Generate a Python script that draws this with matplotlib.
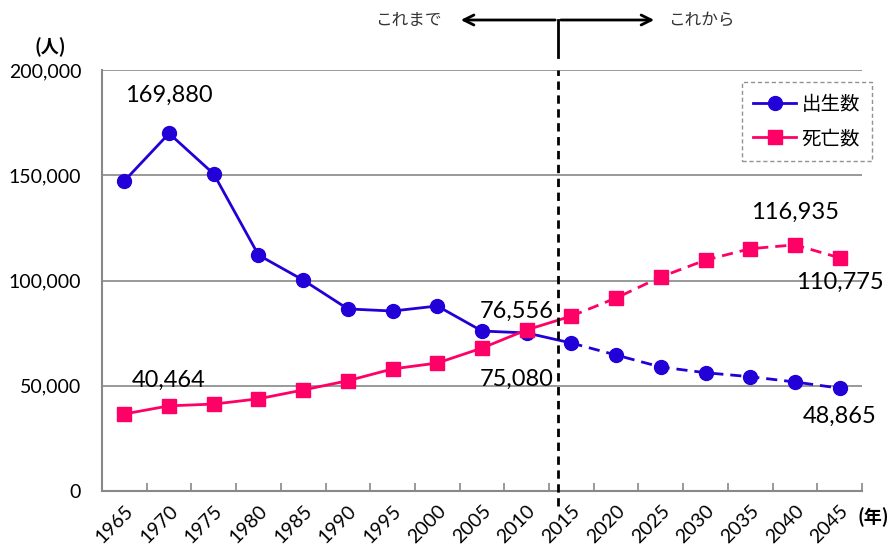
import numpy as np
import matplotlib.pyplot as plt
from matplotlib.lines import Line2D

plt.rcParams['font.family'] = ['Lato', 'Noto Sans CJK JP', 'DejaVu Sans']
jp = ['Noto Sans CJK JP', 'DejaVu Sans']

# data
years = ['1965', '1970', '1975', '1980', '1985', '1990', '1995', '2000', '2005',
         '2010', '2015', '2020', '2025', '2030', '2035', '2040', '2045']
births = [147300, 169880, 150600, 112100, 100200, 86500, 85500, 87900, 76000,
          75080, 70300, 64600, 58900, 56200, 54300, 51800, 48865]
deaths = [36600, 40464, 41300, 43800, 48000, 52400, 58000, 60800, 67900,
          76556, 83100, 91700, 101700, 109700, 115100, 116935, 110775]
split = 10  # first projected year (2015)

blue = '#2200D8'
pink = '#FF0066'

fig = plt.figure(figsize=(8.94, 5.46), dpi=100)
ax = fig.add_axes([0.1141, 0.1007, 0.8501, 0.7711])

x = np.arange(len(years))
ax.plot(x[:split + 1], births[:split + 1], color=blue, lw=2, zorder=3)
ax.plot(x[split:], births[split:], color=blue, lw=2, ls=(0, (4, 2.5)), zorder=3)
ax.plot(x, births, ls='none', marker='o', ms=10, color=blue, zorder=4)
ax.plot(x[:split + 1], deaths[:split + 1], color=pink, lw=2, zorder=3)
ax.plot(x[split:], deaths[split:], color=pink, lw=2, ls=(0, (4, 2.5)), zorder=3)
ax.plot(x, deaths, ls='none', marker='s', ms=10, color=pink, zorder=4)

ax.set_xlim(-0.5, len(years) - 0.5)
ax.set_ylim(0, 200000)
ax.set_yticks(np.arange(0, 200001, 50000))
ax.set_yticklabels([f'{v:,}' for v in range(0, 200001, 50000)], fontsize=14)
ax.yaxis.grid(True, color='#888888', lw=1.2)
ax.set_axisbelow(True)
ax.tick_params(axis='y', length=0, pad=15)

ax.set_xticks(x)
ax.set_xticklabels(years, rotation=45, ha='right', rotation_mode='anchor', fontsize=14)
ax.set_xticks(np.arange(-0.5, len(years)), minor=True)
ax.tick_params(axis='x', which='major', length=0, pad=8)
ax.tick_params(axis='x', which='minor', length=6, direction='in', color='#888888', width=1.2)

for s in ['top', 'right']:
    ax.spines[s].set_visible(False)
for s in ['left', 'bottom']:
    ax.spines[s].set_color('#888888')
    ax.spines[s].set_linewidth(1.5)

# value labels
lab = dict(fontsize=17, color='black', zorder=5)
ax.text(1, 183000, '169,880', ha='center', va='bottom', **lab)
ax.text(1, 47500, '40,464', ha='center', va='bottom', **lab)
ax.text(9.6, 80500, '76,556', ha='right', va='bottom', **lab)
ax.text(9.6, 48000, '75,080', ha='right', va='bottom', **lab)
ax.text(15, 127500, '116,935', ha='center', va='bottom', **lab)
ax.text(16, 94000, '110,775', ha='center', va='bottom', **lab)
ax.text(16, 30500, '48,865', ha='center', va='bottom', **lab)

# axis unit labels
fig.text(50 / 894, 1 - 47 / 546, '(人)', ha='center', va='center', fontsize=13,
         weight='bold', family=jp)
fig.text(873 / 894, 1 - 517 / 546, '(年)', ha='center', va='center', fontsize=13,
         weight='bold', family=jp)

# boundary line between past and projection
xb = 9.7
ax.plot([xb, xb], [-7000, 200000], color='black', lw=2, ls=(0, (3, 2)), clip_on=False, zorder=6)
xf = 558 / 894
fig.add_artist(Line2D([xf, xf], [1 - 57 / 546, 1 - 20 / 546], color='black', lw=2))
arrow = dict(arrowstyle='->', color='black', lw=2, mutation_scale=18)
ax.annotate('', xy=(458 / 894, 1 - 20 / 546), xytext=(xf, 1 - 20 / 546),
            xycoords='figure fraction', textcoords='figure fraction', arrowprops=arrow)
ax.annotate('', xy=(657 / 894, 1 - 20 / 546), xytext=(xf, 1 - 20 / 546),
            xycoords='figure fraction', textcoords='figure fraction', arrowprops=arrow)
fig.text(442 / 894, 1 - 20 / 546, 'これまで', ha='right', va='center', fontsize=12,
         color='#333333', family=jp)
fig.text(668 / 894, 1 - 20 / 546, 'これから', ha='left', va='center', fontsize=12,
         color='#333333', family=jp)

# legend
h1 = Line2D([], [], color=blue, lw=2, marker='o', ms=10)
h2 = Line2D([], [], color=pink, lw=2, marker='s', ms=10)
leg = ax.legend([h1, h2], ['出生数', '死亡数'], loc='upper right',
                bbox_to_anchor=(872 / 894, 1 - 82 / 546), bbox_transform=fig.transFigure,
                borderaxespad=0, prop={'family': jp, 'size': 14},
                frameon=True, fancybox=False, handlelength=2.2,
                borderpad=0.6, labelspacing=0.7, handletextpad=0.3)
leg.get_frame().set_edgecolor('#777777')
leg.get_frame().set_linestyle((0, (3, 2)))
leg.get_frame().set_linewidth(1)

fig.savefig('out.png', dpi=100)
